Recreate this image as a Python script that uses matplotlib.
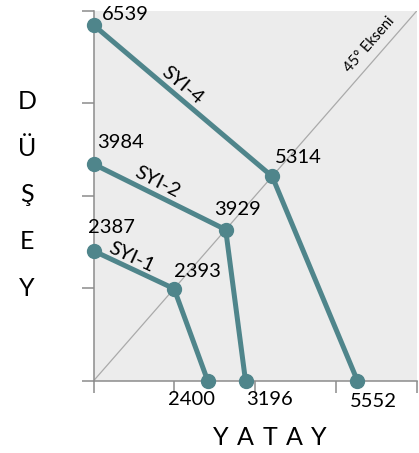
import matplotlib
matplotlib.use('Agg')
import matplotlib.pyplot as plt
import numpy as np

plt.rcParams['font.family'] = ['Lato', 'DejaVu Sans']

# data (both axes run 0..6800, diagonal = 45 degree axis)
seriler = ['SYI-1', 'SYI-2', 'SYI-4']
dusey = [2387, 3984, 6539]        # y-axis end points
yatay = [2400, 3196, 5552]        # x-axis end points
eksen = [2393, 3929, 5314]        # distance along the 45 degree axis
ax_max = 6800

renk = '#4f858b'
gri = '#8c8c8c'

fig = plt.figure(figsize=(4.19, 4.53), dpi=100)
ax = fig.add_axes([0.2236, 0.1596, 0.7709, 0.8161])
ax.set_facecolor('#ececec')
ax.set_xlim(0, ax_max)
ax.set_ylim(0, ax_max)

# 45 derece ekseni
ax.plot([0, ax_max], [0, ax_max], color='#aaaaaa', lw=0.9, zorder=1)
ax.text(5817, 6175, '45° Ekseni', rotation=48.9, fontsize=10.5,
        ha='center', va='center', rotation_mode='anchor')

for i in range(3):
    d = eksen[i] / np.sqrt(2)
    xs = [0, d, yatay[i]]
    ys = [dusey[i], d, 0]
    ax.plot(xs, ys, color=renk, lw=3.6, marker='o', ms=10,
            solid_capstyle='round', zorder=3, clip_on=False)

# data labels (offsets in pixels)
off_dusey = [(-6, 23), (3, 22), (8, 11)]
off_eksen = [(0, 17), (-12, 20), (3, 19)]
off_yatay = [(-16, -19), (24, -19), (16, -21)]
fs = 14.5
for i in range(3):
    d = eksen[i] / np.sqrt(2)
    ax.annotate(str(dusey[i]), (0, dusey[i]), xytext=off_dusey[i],
                textcoords='offset pixels', ha='left', va='center', fontsize=fs)
    ax.annotate(str(eksen[i]), (d, d), xytext=off_eksen[i],
                textcoords='offset pixels', ha='left', va='center', fontsize=fs)
    ax.annotate(str(yatay[i]), (yatay[i], 0), xytext=off_yatay[i],
                textcoords='offset pixels', ha='center', va='center',
                fontsize=fs, annotation_clip=False)

# series names along the lines
isim_pos = [(806, 2275, -25), (1332, 3655, -27), (1859, 5440, -40)]
for i in range(3):
    x, y, r = isim_pos[i]
    ax.text(x, y, seriler[i], rotation=r, fontsize=fs, ha='center',
            va='center', rotation_mode='anchor')

ticks = np.arange(0, ax_max + 1, 1700)
ax.set_xticks(ticks)
ax.set_yticks(ticks)
ax.set_xticklabels([])
ax.set_yticklabels([])
ax.tick_params(direction='out', length=8.6, width=1.1, color=gri)
for s in ['top', 'right']:
    ax.spines[s].set_visible(False)
for s in ['left', 'bottom']:
    ax.spines[s].set_color(gri)
    ax.spines[s].set_linewidth(1.1)

# axis titles, letter spaced
fig.text(0.0645, 0.570, 'D\nÜ\nŞ\nE\nY', ha='center', va='center',
         fontsize=18, linespacing=2.25)
for k, harf in enumerate('YATAY'):
    fig.text((220.5 + 24.6 * k) / 419, 0.035, harf, ha='center',
             va='center', fontsize=18)

fig.savefig('out.png', dpi=100)
